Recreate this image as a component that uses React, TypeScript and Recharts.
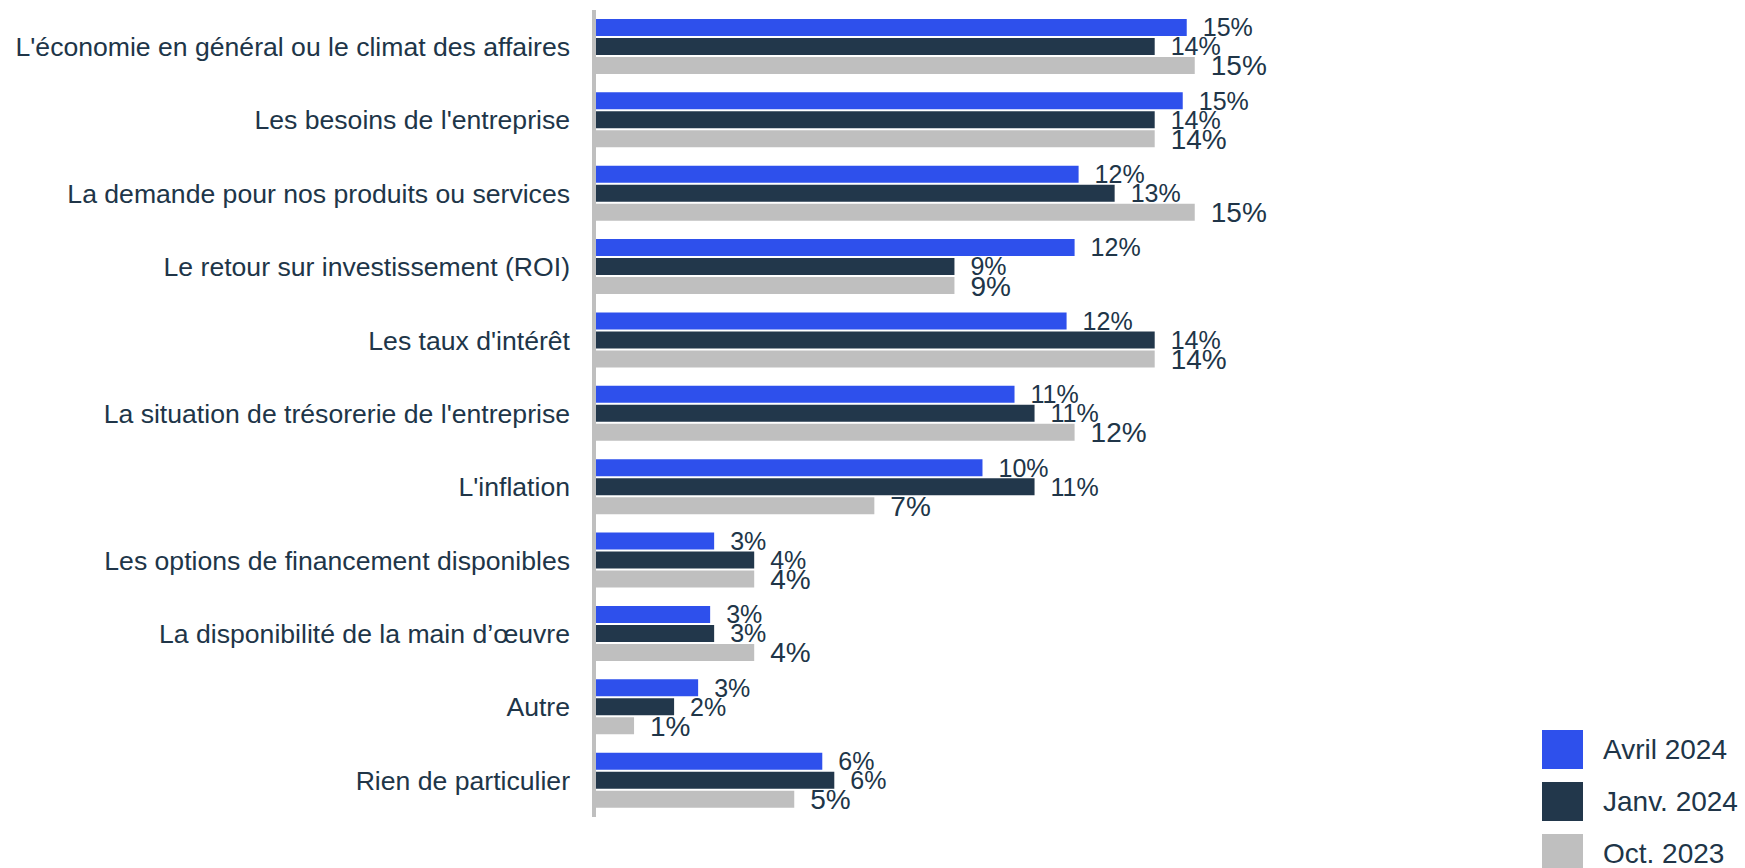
import React from 'react';
import { BarChart, Bar, XAxis, YAxis, LabelList, Legend } from 'recharts';

const categories = [
  "L'économie en général ou le climat des affaires",
  "Les besoins de l'entreprise",
  'La demande pour nos produits ou services',
  'Le retour sur investissement (ROI)',
  "Les taux d'intérêt",
  "La situation de trésorerie de l'entreprise",
  "L'inflation",
  'Les options de financement disponibles',
  'La disponibilité de la main d’œuvre',
  'Autre',
  'Rien de particulier',
];

const avril2024 = [14.8, 14.7, 12.1, 12.0, 11.8, 10.5, 9.7, 3.0, 2.9, 2.6, 5.7];
const janv2024 = [14, 14, 13, 9, 14, 11, 11, 4, 3, 2, 6];
const oct2023 = [15, 14, 15, 9, 14, 12, 7, 4, 4, 1, 5];

const seriesNames = ['Avril 2024', 'Janv. 2024', 'Oct. 2023'];

const data = categories.map((name, i) => ({
  name,
  avril: avril2024[i],
  janv: janv2024[i],
  oct: oct2023[i],
}));

const FONT = '"Liberation Sans", Arial, sans-serif';
const TEXT = '#203548';
const BLUE = '#2e50ec';
const NAVY = '#22374b';
const GREY = '#bfbfbf';

const pct = (v: any) => `${Math.round(Number(v))}%`;

const renderLegend = (props: any) => {
  const { payload } = props;
  return (
    <div>
      {payload.map((entry: any) => (
        <div
          key={entry.value}
          style={{ display: 'flex', alignItems: 'center', height: 39, marginBottom: 13 }}
        >
          <div style={{ width: 41, height: 39, background: entry.color }} />
          <span style={{ marginLeft: 20, fontSize: 28, color: TEXT, fontFamily: FONT }}>
            {entry.value}
          </span>
        </div>
      ))}
    </div>
  );
};

const App: React.FC = () => {
  return (
    <div style={{ position: 'absolute', left: 0, top: 0, background: '#fff' }}>
      <BarChart
        width={1745}
        height={868}
        data={data}
        layout="vertical"
        margin={{ top: 10, right: 350, bottom: 51, left: 0 }}
        barSize={17}
        barGap={2}
      >
        <XAxis type="number" domain={[0, 20]} hide />
        <Bar dataKey="avril" name={seriesNames[0]} fill={BLUE} isAnimationActive={false}>
          <LabelList dataKey="avril" position="right" offset={16} formatter={pct}
            fill={TEXT} fontSize={25} fontFamily={FONT} />
        </Bar>
        <Bar dataKey="janv" name={seriesNames[1]} fill={NAVY} isAnimationActive={false}>
          <LabelList dataKey="janv" position="right" offset={16} formatter={pct}
            fill={TEXT} fontSize={25} fontFamily={FONT} />
        </Bar>
        <Bar dataKey="oct" name={seriesNames[2]} fill={GREY} isAnimationActive={false}>
          <LabelList dataKey="oct" position="right" offset={16} formatter={pct}
            fill={TEXT} fontSize={28} fontFamily={FONT} />
        </Bar>
        <YAxis
          type="category"
          dataKey="name"
          width={594}
          tickLine={false}
          tickSize={0}
          tickMargin={24}
          axisLine={{ stroke: GREY, strokeWidth: 4 }}
          tick={{ fill: TEXT, fontSize: 26.6, fontFamily: FONT }}
          interval={0}
        />
        <Legend
          layout="vertical"
          align="center"
          verticalAlign="middle"
          content={renderLegend}
          wrapperStyle={{ left: 1542, top: 730, width: 220 }}
        />
      </BarChart>
    </div>
  );
};

export default App;
